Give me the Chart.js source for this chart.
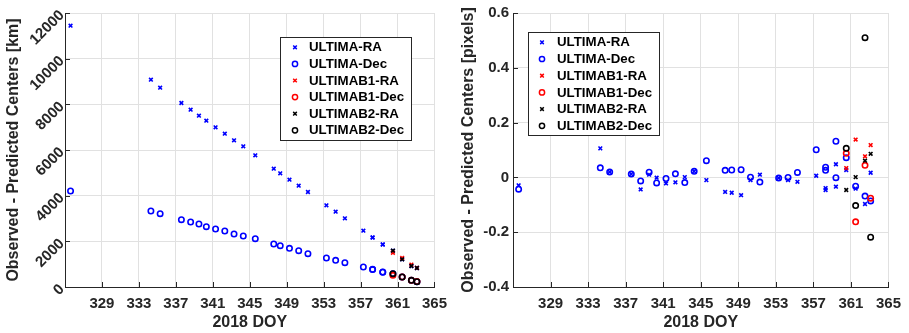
<!DOCTYPE html>
<html>
<head>
<meta charset="utf-8">
<script src="https://cdn.jsdelivr.net/npm/chart.js@4"></script>
<style>
  body { margin: 0; background: #fff; }
  #left { position: absolute; left: 0; top: 0; }
  #right { position: absolute; left: 455px; top: 0; }
</style>
</head>
<body>
<canvas id="left" width="455" height="333"></canvas>
<canvas id="right" width="454" height="333"></canvas>
<script>
// observation days (2018 DOY)
const days = [325.6, 334.3, 335.3, 337.6, 338.6, 339.5, 340.3, 341.3, 342.3, 343.3, 344.3, 345.6,
  347.6, 348.3, 349.3, 350.3, 351.3, 353.3, 354.3, 355.3, 357.3, 358.3, 358.3, 359.4, 359.4,
  360.5, 361.5, 362.5, 363.1];
const bDays = [360.5, 361.5, 362.5, 363.1];

// left panel, km
const ultimaRaKm = [11445, 9080, 8730, 8058, 7766, 7504, 7285, 6993, 6715, 6423, 6161, 5766,
  5182, 4978, 4701, 4438, 4161, 3577, 3299, 3007, 2467, 2175, 2160, 1869, 1855,
  1591, 1212, 920, 832];
const ultimaDecKm = [4204, 3328, 3212, 2949, 2847, 2759, 2642, 2540, 2453, 2321, 2234, 2117,
  1883, 1810, 1693, 1591, 1460, 1270, 1168, 1066, 876, 774, 765, 657, 650,
  584, 438, 292, 234];
const b1RaKm = [1500, 1270, 980, 840];
const b1DecKm = [511, 440, 300, 240];
const b2RaKm = [1591, 1212, 920, 832];
const b2DecKm = [584, 438, 292, 234];

// right panel, pixels
const ultimaRaPx = [-0.029, 0.106, 0.020, 0.012, -0.044, 0.010, -0.001, -0.022, -0.018, 0.001, 0.022, -0.010,
  -0.053, -0.056, -0.065, -0.010, 0.010, -0.002, -0.010, -0.016, 0.006, -0.039, -0.046, 0.048, -0.034,
  0.027, -0.041, -0.097, 0.017];
const ultimaDecPx = [-0.043, 0.035, 0.020, 0.012, -0.013, 0.019, -0.020, -0.004, 0.013, -0.019, 0.022, 0.061,
  0.026, 0.027, 0.028, 0.001, -0.017, -0.002, 0.000, 0.018, 0.101, 0.037, 0.026, 0.132, -0.001,
  0.072, -0.032, -0.068, -0.086];
const b1RaPx = [0.034, 0.138, 0.077, 0.118];
const b1DecPx = [0.088, -0.162, 0.044, -0.076];
const b2RaPx = [-0.046, 0.001, 0.061, 0.086];
const b2DecPx = [0.106, -0.103, 0.510, -0.218];

const xTicks = [329, 333, 337, 341, 345, 349, 353, 357, 361, 365];
const kmTicks = [0, 2000, 4000, 6000, 8000, 10000, 12000];
const pxTicks = [-0.4, -0.2, 0, 0.2, 0.4, 0.6];

const labels = ['ULTIMA-RA', 'ULTIMA-Dec', 'ULTIMAB1-RA', 'ULTIMAB1-Dec', 'ULTIMAB2-RA', 'ULTIMAB2-Dec'];
const colors = ['#0000ff', '#0000ff', '#ff0000', '#ff0000', '#000000', '#000000'];
const shapes = ['crossRot', 'circle', 'crossRot', 'circle', 'crossRot', 'circle'];

const FONT = '"Liberation Sans", Arial, Helvetica, sans-serif';
const AXIS = '#262626';
const GRID = '#e1e1e1';

function makeDatasets(series) {
  return series.map((vals, i) => ({
    label: labels[i],
    data: (i < 2 ? days : bDays).map((d, k) => ({ x: d, y: vals[k] })),
    pointStyle: shapes[i],
    borderColor: colors[i],
    backgroundColor: 'rgba(0,0,0,0)',
    pointRadius: shapes[i] === 'circle' ? 2.7 : 2.6,
    pointBorderWidth: 1.6,
    order: 2 - Math.floor(i / 2),
  }));
}

const innerTicks = {
  id: 'innerTicks',
  beforeDatasetsDraw(chart) {
    const { ctx, chartArea: a, scales: { x, y } } = chart;
    ctx.save();
    ctx.strokeStyle = AXIS;
    ctx.lineWidth = 1;
    ctx.beginPath();
    x.ticks.forEach(t => {
      const px = Math.round(x.getPixelForValue(t.value)) + 0.5;
      ctx.moveTo(px, a.bottom);
      ctx.lineTo(px, a.bottom - 5);
    });
    y.ticks.forEach(t => {
      const py = Math.round(y.getPixelForValue(t.value)) + 0.5;
      ctx.moveTo(a.left, py);
      ctx.lineTo(a.left + 5, py);
    });
    ctx.stroke();
    ctx.restore();
  },
};

const boxLegend = {
  id: 'boxLegend',
  afterDatasetsDraw(chart, args, o) {
    const ctx = chart.ctx;
    ctx.save();
    ctx.fillStyle = '#fff';
    ctx.fillRect(o.x, o.y, o.w, o.h);
    ctx.strokeStyle = AXIS;
    ctx.lineWidth = 1;
    ctx.strokeRect(o.x + 0.5, o.y + 0.5, o.w, o.h);
    ctx.font = 'bold 13.3px ' + FONT;
    ctx.textBaseline = 'middle';
    chart.data.datasets.forEach((ds, i) => {
      const cy = o.y + o.first + i * o.step;
      const mx = o.x + o.marker;
      ctx.strokeStyle = ds.borderColor;
      ctx.lineWidth = 1.5;
      ctx.beginPath();
      if (ds.pointStyle === 'circle') {
        ctx.arc(mx, cy, 2.6, 0, Math.PI * 2);
      } else {
        const r = 1.8;
        ctx.moveTo(mx - r, cy - r); ctx.lineTo(mx + r, cy + r);
        ctx.moveTo(mx + r, cy - r); ctx.lineTo(mx - r, cy + r);
      }
      ctx.stroke();
      ctx.fillStyle = '#000';
      ctx.fillText(ds.label, o.x + o.text, cy + 0.5);
    });
    ctx.restore();
  },
};

function makeChart(id, series, yCfg, yWidth, padRight, legendPos) {
  return new Chart(document.getElementById(id), {
    type: 'scatter',
    data: { datasets: makeDatasets(series) },
    plugins: [innerTicks, boxLegend],
    options: {
      responsive: false,
      animation: false,
      layout: { padding: { left: 0, right: padRight, top: 13, bottom: 0 } },
      plugins: { legend: { display: false }, tooltip: { enabled: false }, boxLegend: legendPos },
      scales: {
        x: {
          type: 'linear',
          min: 325,
          max: 365,
          afterBuildTicks: s => { s.ticks = xTicks.map(v => ({ value: v })); },
          afterFit: s => { s.height = 46; },
          grid: { color: GRID, drawTicks: false },
          border: { color: AXIS, width: 1 },
          ticks: { color: AXIS, padding: 8, maxRotation: 0, font: { family: FONT, size: 15, weight: 'bold' } },
          title: { display: true, text: '2018 DOY', color: AXIS, padding: { top: 0, bottom: 1 },
            font: { family: FONT, size: 16, weight: 'bold' } },
        },
        y: {
          type: 'linear',
          min: yCfg.min,
          max: yCfg.max,
          afterBuildTicks: s => { s.ticks = yCfg.ticks.map(v => ({ value: v })); },
          afterFit: s => { s.width = yWidth; },
          grid: { color: GRID, drawTicks: false },
          border: { color: AXIS, width: 1 },
          ticks: Object.assign({ color: AXIS, font: { family: FONT, size: 15, weight: 'bold' } }, yCfg.tickOpts),
          title: { display: true, text: yCfg.title, color: AXIS, padding: { top: 4, bottom: 0 },
            font: { family: FONT, size: 16, weight: 'bold' } },
        },
      },
    },
  });
}

makeChart('left', [ultimaRaKm, ultimaDecKm, b1RaKm, b1DecKm, b2RaKm, b2DecKm], {
  min: 0, max: 12000, ticks: kmTicks, title: 'Observed - Predicted Centers [km]',
  tickOpts: { padding: 3, minRotation: 45, maxRotation: 45, callback: v => String(v) },
}, 65, 16, { x: 280, y: 37, w: 131, h: 103, first: 10.3, step: 16.6, marker: 15, text: 29 });

makeChart('right', [ultimaRaPx, ultimaDecPx, b1RaPx, b1DecPx, b2RaPx, b2DecPx], {
  min: -0.4, max: 0.6, ticks: pxTicks, title: 'Observed - Predicted Centers [pixels]',
  tickOpts: { padding: 4, callback: v => (Math.abs(v) < 1e-9 ? '0' : v.toFixed(1)) },
}, 58, 16, { x: 73, y: 32, w: 131, h: 103, first: 10.3, step: 16.7, marker: 14, text: 29 });
</script>
</body>
</html>
